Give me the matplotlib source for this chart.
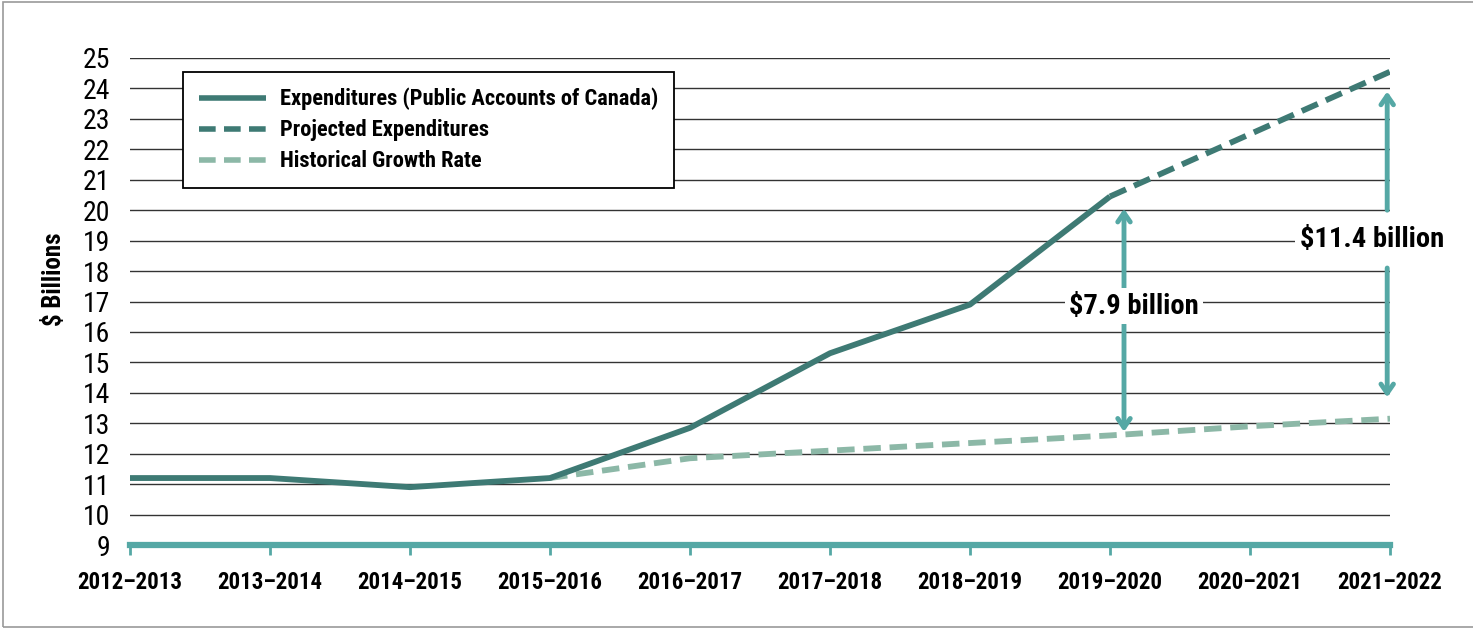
import matplotlib
matplotlib.use("Agg")
import matplotlib.pyplot as plt
from matplotlib.patches import Rectangle
import numpy as np

# ── Data ──
years = ["2012–2013", "2013–2014", "2014–2015", "2015–2016", "2016–2017",
         "2017–2018", "2018–2019", "2019–2020", "2020–2021", "2021–2022"]
expenditures = [11.2, 11.2, 10.9, 11.2, 12.85, 15.3, 16.9, 20.45]
projected_years = years[7:]
projected = [20.45, 22.5, 24.55]
historical_years = years[3:]
historical = [11.2, 11.85, 12.1, 12.35, 12.6, 12.9, 13.15]
y_ticks = list(range(9, 26))

gap_labels = ["$7.9 billion", "$11.4 billion"]

C_EXP = "#3e7a74"
C_HIST = "#8cb8a7"
C_TEAL = "#55a8a5"

plt.rcParams["font.family"] = ["Roboto Condensed", "Liberation Sans Narrow", "Roboto", "DejaVu Sans"]

fig = plt.figure(figsize=(14.73, 6.29), dpi=100)
fig.patch.set_facecolor("white")
ax = fig.add_axes([130 / 1473, 1 - 545 / 629, 1260 / 1473, 487 / 629])

# frame around the figure
fig.patches.append(Rectangle((3 / 1473, 2 / 629), 1.1, 1 - 4 / 629, transform=fig.transFigure,
                             fill=False, edgecolor="#9a9a9a", linewidth=1.2, zorder=0))

x = np.arange(len(years))
idx = {y: i for i, y in enumerate(years)}

ax.plot(x[:len(expenditures)], expenditures, color=C_EXP, lw=4.2, solid_capstyle="butt",
        label="Expenditures (Public Accounts of Canada)", zorder=4)
ax.plot([idx[y] for y in projected_years], projected, color=C_EXP, lw=4.2,
        linestyle=(0, (3, 1.5)), label="Projected Expenditures", zorder=4)
ax.plot([idx[y] for y in historical_years], historical, color=C_HIST, lw=4.2,
        linestyle=(0, (3, 1.5)), label="Historical Growth Rate", zorder=3)

ax.set_xlim(0, len(years) - 1)
ax.set_ylim(9, 25)
ax.set_yticks(y_ticks)
ax.set_xticks(x)
ax.set_xticklabels(years, fontsize=16.5, fontweight="bold")
ax.tick_params(axis="y", length=0, pad=14, labelsize=20)
ax.tick_params(axis="x", length=7, width=2, color=C_TEAL, pad=12)

for v in y_ticks[1:]:
    ax.axhline(v, color="#333333", lw=1, zorder=1)

for s in ["top", "right", "left"]:
    ax.spines[s].set_visible(False)
ax.spines["bottom"].set_color(C_TEAL)
ax.spines["bottom"].set_linewidth(4.5)
ax.spines["bottom"].set_zorder(5)

ax.set_ylabel("$ Billions", fontsize=18, fontweight="bold")
ax.yaxis.set_label_coords(-0.051, 0.545)

leg = ax.legend(loc="upper left", bbox_to_anchor=(0.042, 0.971), borderaxespad=0,
                frameon=True, fancybox=False, edgecolor="black", framealpha=1,
                borderpad=0.7, handlelength=3.0, handletextpad=0.6, labelspacing=0.4,
                prop={"weight": "bold", "size": 16.2})
leg.get_frame().set_linewidth(1.3)
for h in leg.get_lines():
    h.set_linewidth(4.0)

# ── gap arrows ──
arrow_kw = dict(arrowstyle="->,head_length=0.65,head_width=0.45", color=C_TEAL, lw=3.5,
                shrinkA=0, shrinkB=0)


def gap_arrow(xpos, top, bottom, gap_top, gap_bottom, text, tx):
    ax.annotate("", xy=(xpos, top), xytext=(xpos, gap_top), arrowprops=arrow_kw, zorder=6)
    ax.annotate("", xy=(xpos, bottom), xytext=(xpos, gap_bottom), arrowprops=arrow_kw, zorder=6)
    ax.text(tx, (gap_top + gap_bottom) / 2, text, ha="center", va="center", fontsize=20.5,
            fontweight="bold", color="black", zorder=7, clip_on=False,
            bbox=dict(boxstyle="square,pad=0.15", fc="white", ec="none"))


gap_arrow(7.1, 20.05, 12.72, 17.45, 16.25, gap_labels[0], 7.17)
gap_arrow(8.98, 23.9, 13.85, 20.0, 18.1, gap_labels[1], 8.87)

fig.savefig("out.png", dpi=100, facecolor="white")
